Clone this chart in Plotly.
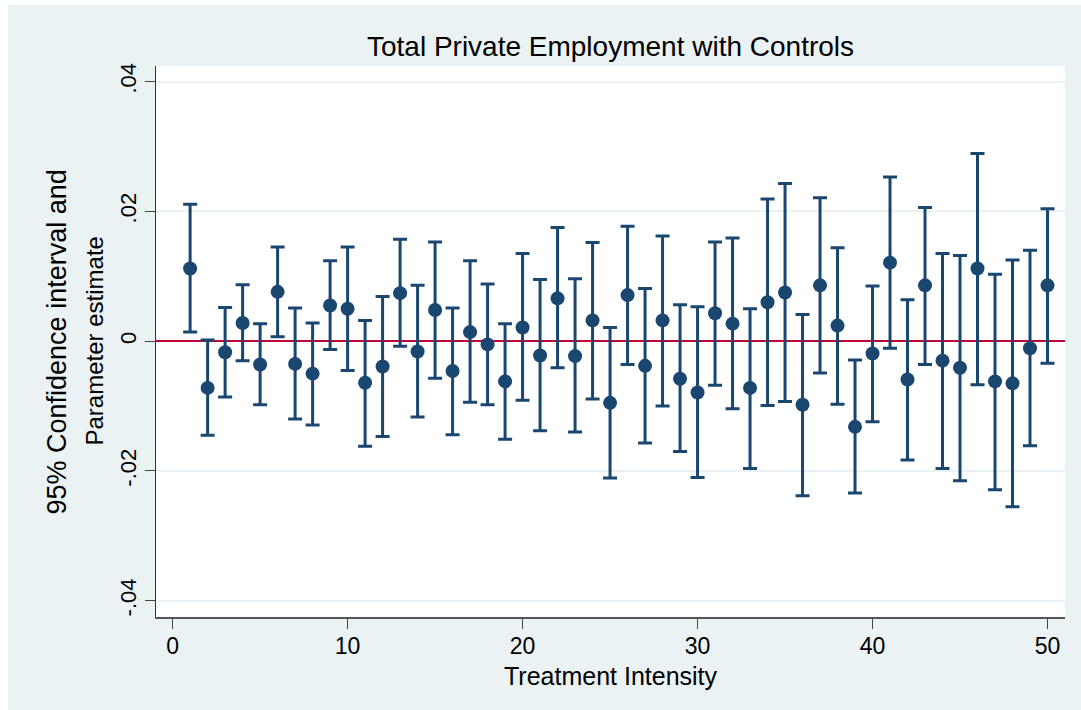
import plotly.graph_objects as go

# Treatment intensity levels
intensity = list(range(1, 51))

# Point estimates
estimate = [
    0.0112, -0.0072, -0.0017, 0.0028, -0.0036, 0.0076, -0.0035, -0.0050, 0.0055, 0.0050,
    -0.0064, -0.0039, 0.0074, -0.0016, 0.0048, -0.0046, 0.0014, -0.0005, -0.0062, 0.0021,
    -0.0022, 0.0066, -0.0023, 0.0032, -0.0095, 0.0071, -0.0038, 0.0032, -0.0058, -0.0079,
    0.0043, 0.0027, -0.0072, 0.0060, 0.0075, -0.0098, 0.0086, 0.0024, -0.0132, -0.0019,
    0.0121, -0.0059, 0.0086, -0.0030, -0.0041, 0.0112, -0.0062, -0.0065, -0.0011, 0.0086,
]

# Upper bound of 95% confidence interval
ci_upper = [
    0.0211, 0.0002, 0.0052, 0.0087, 0.0027, 0.0145, 0.0051, 0.0028, 0.0124, 0.0145,
    0.0032, 0.0069, 0.0157, 0.0086, 0.0153, 0.0051, 0.0124, 0.0088, 0.0027, 0.0135,
    0.0095, 0.0175, 0.0096, 0.0152, 0.0021, 0.0177, 0.0081, 0.0162, 0.0056, 0.0053,
    0.0153, 0.0159, 0.0050, 0.0219, 0.0243, 0.0041, 0.0221, 0.0144, -0.0029, 0.0085,
    0.0253, 0.0064, 0.0206, 0.0135, 0.0132, 0.0289, 0.0103, 0.0125, 0.0140, 0.0204,
]

# Lower bound of 95% confidence interval
ci_lower = [
    0.0014, -0.0145, -0.0086, -0.0030, -0.0098, 0.0007, -0.0120, -0.0129, -0.0013, -0.0045,
    -0.0162, -0.0147, -0.0008, -0.0117, -0.0057, -0.0144, -0.0094, -0.0098, -0.0151, -0.0091,
    -0.0138, -0.0041, -0.0140, -0.0089, -0.0211, -0.0036, -0.0157, -0.0100, -0.0170, -0.0210,
    -0.0068, -0.0104, -0.0196, -0.0099, -0.0093, -0.0238, -0.0049, -0.0097, -0.0234, -0.0124,
    -0.0011, -0.0183, -0.0036, -0.0196, -0.0215, -0.0067, -0.0229, -0.0255, -0.0161, -0.0034,
]

y_tickvals = [-0.04, -0.02, 0, 0.02, 0.04]
y_ticktext = ["-.04", "-.02", "0", ".02", ".04"]
x_tickvals = [0, 10, 20, 30, 40, 50]

NAVY = "#1a476f"
RED = "#c10534"
BG = "#eaf2f3"
FONT = "Liberation Sans, Arial, sans-serif"

err_plus = [u - e for u, e in zip(ci_upper, estimate)]
err_minus = [e - l for e, l in zip(estimate, ci_lower)]

fig = go.Figure()

fig.add_trace(go.Scatter(
    x=intensity,
    y=estimate,
    mode="markers",
    marker=dict(color=NAVY, size=14, line=dict(width=0)),
    error_y=dict(
        type="data",
        symmetric=False,
        array=err_plus,
        arrayminus=err_minus,
        color=NAVY,
        thickness=3,
        width=7,
    ),
    showlegend=False,
))

fig.update_layout(
    width=1081,
    height=710,
    margin=dict(l=156, r=16, t=66, b=93),
    paper_bgcolor="white",
    plot_bgcolor="white",
    font=dict(family=FONT, color="black", size=22),
    title=dict(
        text="Total Private Employment with Controls",
        x=0.5, xref="paper", xanchor="center",
        y=1 - 46 / 710, yref="container", yanchor="middle",
        font=dict(size=28, family=FONT, color="black"),
    ),
    xaxis=dict(
        range=[-0.95, 51.0],
        tickvals=x_tickvals,
        ticks="outside", ticklen=10, tickwidth=1, tickcolor="#444",
        showline=True, linecolor="#555", linewidth=2,
        showgrid=False, zeroline=False,
        tickfont=dict(size=23),
        ticklabelstandoff=-3,
    ),
    yaxis=dict(
        range=[-0.0425, 0.0424],
        tickvals=y_tickvals, ticktext=y_ticktext,
        tickangle=-90,
        ticks="outside", ticklen=10, tickwidth=1, tickcolor="#444",
        showline=True, linecolor="#333", linewidth=1,
        showgrid=True, gridcolor=BG, gridwidth=2,
        zeroline=True, zerolinecolor=RED, zerolinewidth=2,
        tickfont=dict(size=22),
    ),
    shapes=[
        # light backdrop of the graph region
        dict(type="rect", xref="paper", yref="paper",
             x0=-0.1628, x1=1.02, y0=-0.17, y1=1.1107,
             fillcolor=BG, line=dict(width=0), layer="below"),
        # plot region on top of the backdrop
        dict(type="rect", xref="paper", yref="paper",
             x0=0, x1=1, y0=0, y1=1,
             fillcolor="white", line=dict(width=0), layer="below"),
    ],
    annotations=[
        dict(text="Treatment Intensity", xref="paper", yref="paper",
             x=0.5, y=(617 - 676) / 551, xanchor="center", yanchor="middle",
             showarrow=False, font=dict(size=25)),
        dict(text="95% Confidence interval and", xref="paper", yref="paper",
             x=(56 - 156) / 909, y=0.5 - 1 / 551, xanchor="center", yanchor="middle",
             textangle=-90, showarrow=False, font=dict(size=27)),
        dict(text="Parameter estimate", xref="paper", yref="paper",
             x=(94 - 156) / 909, y=0.5, xanchor="center", yanchor="middle",
             textangle=-90, showarrow=False, font=dict(size=24)),
    ],
)

fig.write_html("out.html")
